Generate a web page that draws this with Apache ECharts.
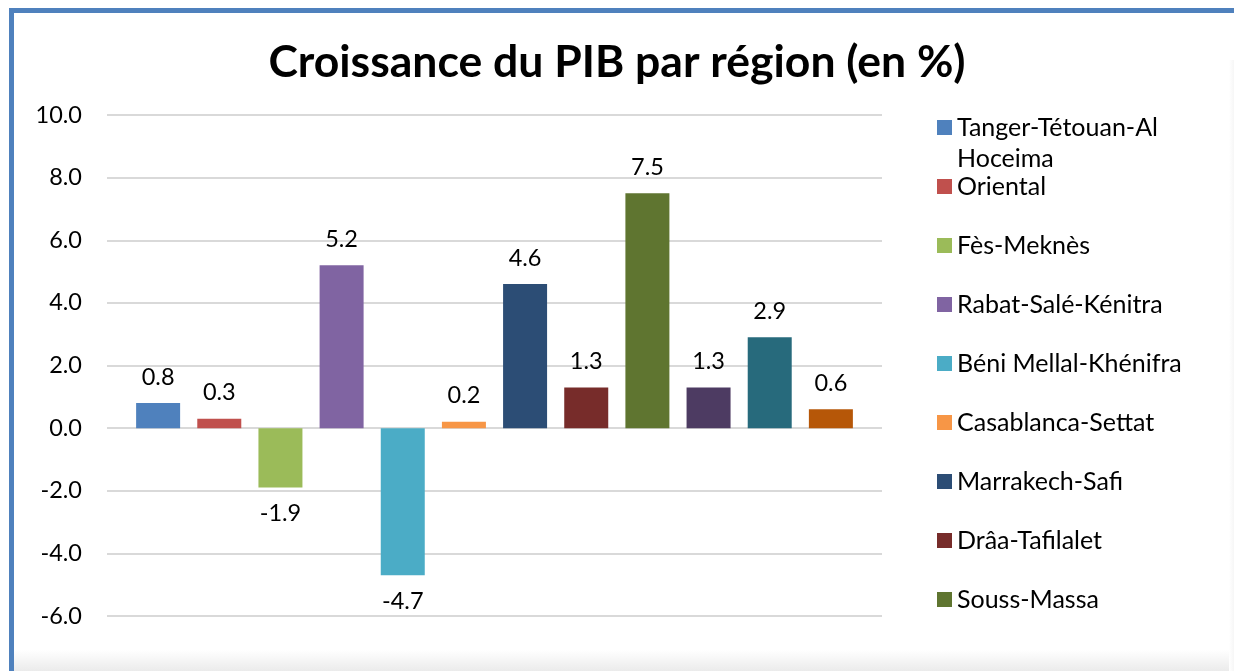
<!DOCTYPE html>
<html>
<head>
<meta charset="utf-8">
<script src="https://cdn.jsdelivr.net/npm/echarts@6/dist/echarts.min.js"></script>
<style>
html,body{margin:0;padding:0;background:#fff;}
#chart{width:1234px;height:671px;}
</style>
</head>
<body>
<div id="chart"></div>
<script>
const title = 'Croissance du PIB par région (en %)';
const regions = ['Tanger-Tétouan-Al Hoceima','Oriental','Fès-Meknès','Rabat-Salé-Kénitra','Béni Mellal-Khénifra','Casablanca-Settat','Marrakech-Safi','Drâa-Tafilalet','Souss-Massa','Guelmim-Oued Noun','Laâyoune-Sakia El Hamra','Dakhla-Oued Ed Dahab'];
const growth = [0.8, 0.3, -1.9, 5.2, -4.7, 0.2, 4.6, 1.3, 7.5, 1.3, 2.9, 0.6];
const colors = ['#4F81BD','#C0504D','#9BBB59','#8064A2','#4BACC6','#F79646','#2C4D75','#772C2A','#5F7530','#4D3B62','#276A7C','#B65708'];
const yMin = -6, yMax = 10, yStep = 2;

const FONT = 'Lato, "Open Sans", sans-serif';
const chart = echarts.init(document.getElementById('chart'), null, {renderer:'canvas'});

const series = regions.map((name, i) => ({
  name: name,
  type: 'bar',
  data: [growth[i]],
  barWidth: 44,
  barGap: '39%',
  itemStyle: {color: colors[i]},
  label: {
    show: true,
    position: growth[i] >= 0 ? 'top' : 'bottom',
    distance: 14,
    color: '#000',
    fontFamily: FONT,
    fontSize: 23.5,
    formatter: p => p.value.toFixed(1)
  }
}));

// icon for a two-line legend entry: square aligned with first text line
const twoLineIcon = 'path://M0,0h15v15h-15z M0,46h0.001v-0.001h-0.001z';

chart.setOption({
  animation: false,
  title: {
    text: title,
    left: 'center',
    top: 35,
    textStyle: {fontFamily: FONT, fontWeight: 'bold', fontSize: 44.5, color: '#000'}
  },
  graphic: [
    {type:'rect', shape:{x:14, y:650, width:1220, height:21}, silent:true,
     style:{fill:{type:'linear', x:0, y:0, x2:0, y2:1, colorStops:[{offset:0, color:'#ffffff'},{offset:1, color:'#ebebeb'}]}}},
    {type:'rect', shape:{x:1229, y:60, width:5, height:611}, silent:true,
     style:{fill:{type:'linear', x:0, y:0, x2:1, y2:0, colorStops:[{offset:0, color:'#ffffff'},{offset:1, color:'#f6f6f6'}]}}},
    {type:'rect', shape:{x:9, y:8, width:1230, height:5}, style:{fill:'#4F81BD'}, silent:true},
    {type:'rect', shape:{x:9, y:8, width:5, height:670}, style:{fill:'#4F81BD'}, silent:true}
  ],
  grid: {left: 107, right: 352, top: 115, bottom: 55, containLabel: false},
  xAxis: {
    type: 'category',
    data: [''],
    axisLine: {show: false},
    axisTick: {show: false},
    axisLabel: {show: false}
  },
  yAxis: {
    type: 'value',
    min: yMin, max: yMax, interval: yStep,
    axisLine: {show: false},
    axisTick: {show: false},
    axisLabel: {
      margin: 25,
      color: '#000',
      fontFamily: FONT,
      fontSize: 23.5,
      formatter: v => v.toFixed(1)
    },
    splitLine: {lineStyle: {color: '#d9d9d9', width: 2}}
  },
  legend: [
    {
      orient: 'vertical',
      left: 937,
      top: 112,
      padding: 0,
      itemWidth: 15,
      itemHeight: 46,
      data: [{name: regions[0], icon: twoLineIcon}],
      formatter: n => n.replace('Al ', 'Al\n'),
      textStyle: {fontFamily: FONT, fontSize: 25, color: '#000', lineHeight: 31},
      selectedMode: false
    },
    {
      orient: 'vertical',
      left: 937,
      top: 171,
      padding: 0,
      itemWidth: 15,
      itemHeight: 15,
      itemGap: 28,
      icon: 'rect',
      data: regions.slice(1, 9),
      textStyle: {fontFamily: FONT, fontSize: 25, color: '#000', lineHeight: 31},
      selectedMode: false
    }
  ],
  series: series
});
</script>
</body>
</html>
